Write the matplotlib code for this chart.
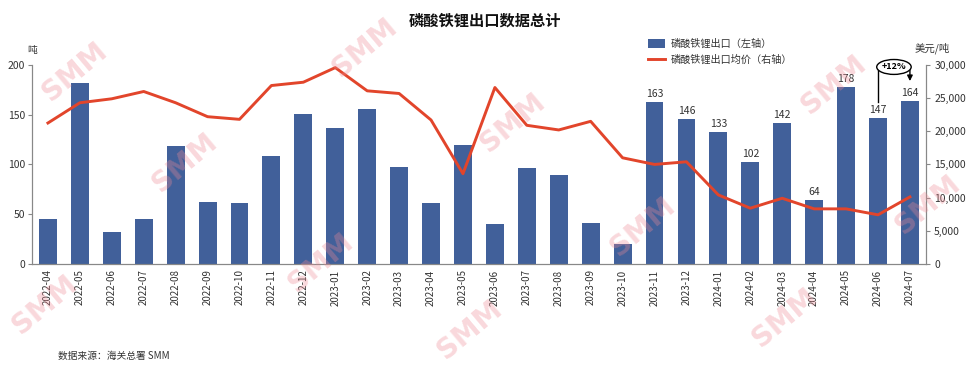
import matplotlib
matplotlib.use("agg")
import matplotlib.pyplot as plt
from matplotlib.patches import Ellipse, Patch
from matplotlib.lines import Line2D
from matplotlib.ticker import FuncFormatter
import numpy as np

plt.rcParams['font.family'] = ['Noto Sans CJK SC', 'DejaVu Sans']

# Data
months = ["2022-04", "2022-05", "2022-06", "2022-07", "2022-08", "2022-09", "2022-10",
          "2022-11", "2022-12", "2023-01", "2023-02", "2023-03", "2023-04", "2023-05",
          "2023-06", "2023-07", "2023-08", "2023-09", "2023-10", "2023-11", "2023-12",
          "2024-01", "2024-02", "2024-03", "2024-04", "2024-05", "2024-06", "2024-07"]
export_tons = [45, 182, 32, 45, 119, 62, 61, 108, 151, 137, 156, 97, 61, 120,
               40, 96, 89, 41, 20, 163, 146, 133, 102, 142, 64, 178, 147, 164]
avg_price = [21250, 24300, 24900, 26000, 24300, 22200, 21800, 26900, 27400, 29600,
             26100, 25700, 21700, 13600, 26600, 20900, 20200, 21500, 16000, 15000,
             15400, 10400, 8400, 9900, 8300, 8300, 7400, 10100]
labelled_from = 19  # bars from 2023-11 carry value labels

bar_color = "#41609A"
line_color = "#E2452B"
grey = "#888888"

fig = plt.figure(figsize=(9.69, 3.65), dpi=100)
ax = fig.add_axes([0.033, 0.277, 0.9225, 0.545])
ax2 = ax.twinx()

x = np.arange(len(months))
ax.bar(x, export_tons, width=0.56, color=bar_color, zorder=2)
ax2.plot(x, avg_price, color=line_color, lw=2.1, zorder=3)

for i in range(labelled_from, len(months)):
    ax.text(i, export_tons[i] + 3, str(export_tons[i]), ha='center', va='bottom',
            fontsize=7.5, color="#333333")

ax.set_xlim(-0.5, 27.5)
ax.set_ylim(0, 200)
ax.set_yticks([0, 50, 100, 150, 200])
ax2.set_ylim(0, 30000)
ax2.set_yticks(range(0, 30001, 5000))
ax2.yaxis.set_major_formatter(FuncFormatter(lambda v, p: f"{int(v):,}"))

ax.set_xticks(x)
ax.set_xticklabels(months, rotation=90, fontsize=7, color="#333333")
ax.tick_params(axis='x', length=0, pad=4)
ax.tick_params(axis='y', length=3, color=grey, labelsize=7.5, labelcolor="#333333", pad=2)
ax2.tick_params(axis='y', length=3, color=grey, labelsize=7.5, labelcolor="#333333", pad=3)

for a in (ax, ax2):
    a.spines['top'].set_visible(False)
    for s in ('left', 'right', 'bottom'):
        a.spines[s].set_color(grey)
        a.spines[s].set_linewidth(0.8)

# +12% bracket between 2024-06 and 2024-07
top_y = 198
ax.plot([26, 26], [163, top_y], color='black', lw=1, clip_on=False, zorder=5)
ax.annotate("", xy=(27, 181), xytext=(27, top_y),
            arrowprops=dict(arrowstyle='-|>', color='black', lw=1, mutation_scale=8),
            annotation_clip=False, zorder=5)
ax.add_patch(Ellipse((26.5, top_y), 1.08, 15, facecolor='white', edgecolor='black',
                     lw=1, clip_on=False, zorder=6))
ax.text(26.5, top_y, "+12%", ha='center', va='center', fontsize=6.5, fontweight='bold',
        zorder=7, clip_on=False)

# Title, units, legend, source
fig.text(0.5, 0.945, "磷酸铁锂出口数据总计", ha='center', va='center',
         fontsize=11, fontweight='bold', color="#111111")
fig.text(0.033, 0.862, "吨", ha='center', va='center', fontsize=7, color="#333333")
fig.text(0.962, 0.868, "美元/吨", ha='center', va='center', fontsize=7.5, color="#333333")
fig.text(0.06, 0.025, "数据来源：海关总署 SMM", ha='left', va='center', fontsize=7, color="#333333")

handles = [Patch(facecolor=bar_color), Line2D([0], [0], color=line_color, lw=2.1)]
fig.legend(handles, ["磷酸铁锂出口（左轴）", "磷酸铁锂出口均价（右轴）"],
           loc='upper left', bbox_to_anchor=(0.665, 0.905), frameon=False,
           fontsize=7.3, handlelength=1.6, handleheight=0.9, labelspacing=0.55,
           borderaxespad=0, handletextpad=0.6, labelcolor="#333333")

# SMM watermarks
wm_pos = [(75, 72), (365, 48), (185, 163), (321, 263), (513, 123), (643, 227),
          (834, 85), (928, 205), (45, 305), (785, 318), (470, 330)]
for px, py in wm_pos:
    fig.text(px / 969, 1 - py / 365, "SMM", ha='center', va='center', rotation=40,
             fontsize=20, fontweight='bold', color="#EE8A94", alpha=0.33, zorder=10,
             family='DejaVu Sans')

fig.savefig("out.png", dpi=100)
